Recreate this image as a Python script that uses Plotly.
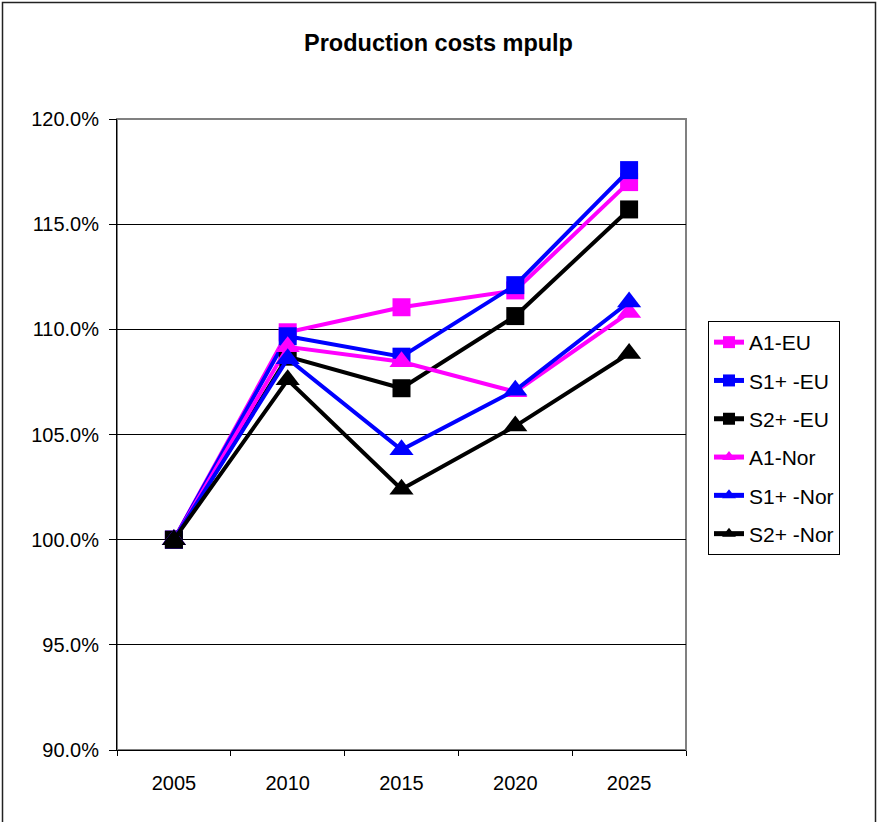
import plotly.graph_objects as go

# Categories and series (cost index relative to 2005)
years = ["2005", "2010", "2015", "2020", "2025"]

a1_eu = [1.000, 1.0986, 1.1105, 1.1185, 1.1700]
s1_eu = [1.000, 1.0967, 1.0870, 1.1210, 1.1757]
s2_eu = [1.000, 1.0870, 1.0720, 1.1063, 1.1570]
a1_nor = [1.000, 1.0917, 1.0846, 1.0703, 1.1080]
s1_nor = [1.000, 1.0860, 1.0427, 1.0710, 1.1130]
s2_nor = [1.000, 1.0760, 1.0240, 1.0540, 1.0885]

series_names = ["A1-EU", "S1+ -EU", "S2+ -EU", "A1-Nor", "S1+ -Nor", "S2+ -Nor"]
series_values = [a1_eu, s1_eu, s2_eu, a1_nor, s1_nor, s2_nor]
series_colors = ["#FF00FF", "#0000FF", "#000000", "#FF00FF", "#0000FF", "#000000"]
series_symbols = ["square", "square", "square", "triangle-up", "triangle-up", "triangle-up"]

y_ticks = [0.90, 0.95, 1.00, 1.05, 1.10, 1.15, 1.20]

FONT = "Liberation Sans, Arial, sans-serif"

fig = go.Figure()
for name, vals, col, sym in zip(series_names, series_values, series_colors, series_symbols):
    fig.add_trace(go.Scatter(
        x=years, y=vals, name=name, mode="lines+markers",
        legendgroup=name,
        line=dict(color=col, width=4),
        marker=dict(symbol=sym, color=col, size=18 if sym == "square" else 21,
                    line=dict(width=0)),
    ))

# Plot-area edges in paper coordinates for an outer frame
L, R, T, B = 117, 686, 119, 750
W, H = 877, 822
def px_x(p):
    return (p - L) / (R - L)
def px_y(p):
    return (B - p) / (B - T)

fig.update_layout(
    width=W, height=H,
    margin=dict(l=L, r=W - R, t=T, b=H - B, pad=0),
    paper_bgcolor="white", plot_bgcolor="white",
    font=dict(family=FONT, size=20, color="black"),
    title=dict(text="<b>Production costs mpulp</b>", x=0.5, xref="container",
               y=1 - 43 / H, yref="container", yanchor="middle", xanchor="center",
               font=dict(family=FONT, size=23.5, color="black")),
    showlegend=True,
    legend=dict(x=px_x(708), xanchor="left", y=px_y(321), yanchor="top",
                bordercolor="black", borderwidth=1, bgcolor="white",
                font=dict(family=FONT, size=21, color="black"),
                traceorder="grouped", tracegroupgap=8,
                itemsizing="constant"),
    xaxis=dict(type="category", range=[-0.5, 4.5], tickson="boundaries",
               ticks="outside", ticklen=5, tickcolor="black", tickwidth=1,
               showline=True, linecolor="black", linewidth=1,
               showgrid=False, zeroline=False, ticklabelstandoff=15,
               tickfont=dict(family=FONT, size=20, color="black")),
    yaxis=dict(range=[0.90, 1.20], tickvals=y_ticks, tickformat=".1%",
               ticks="outside", ticklen=7, tickcolor="black", tickwidth=1,
               showline=True, linecolor="black", linewidth=1,
               showgrid=True, gridcolor="black", gridwidth=1,
               zeroline=False, ticklabelstandoff=6,
               tickfont=dict(family=FONT, size=20, color="black")),
    shapes=[
        # grey plot-area border on top and right
        dict(type="rect", xref="paper", yref="paper", x0=0, x1=1, y0=0, y1=1,
             line=dict(color="#808080", width=2), layer="below"),
        # outer chart frame
        dict(type="rect", xref="paper", yref="paper",
             x0=px_x(2.5), x1=px_x(875.5), y0=px_y(835), y1=px_y(2.5),
             line=dict(color="#222222", width=1.5), layer="below"),
    ],
)

fig.write_html("out.html")
